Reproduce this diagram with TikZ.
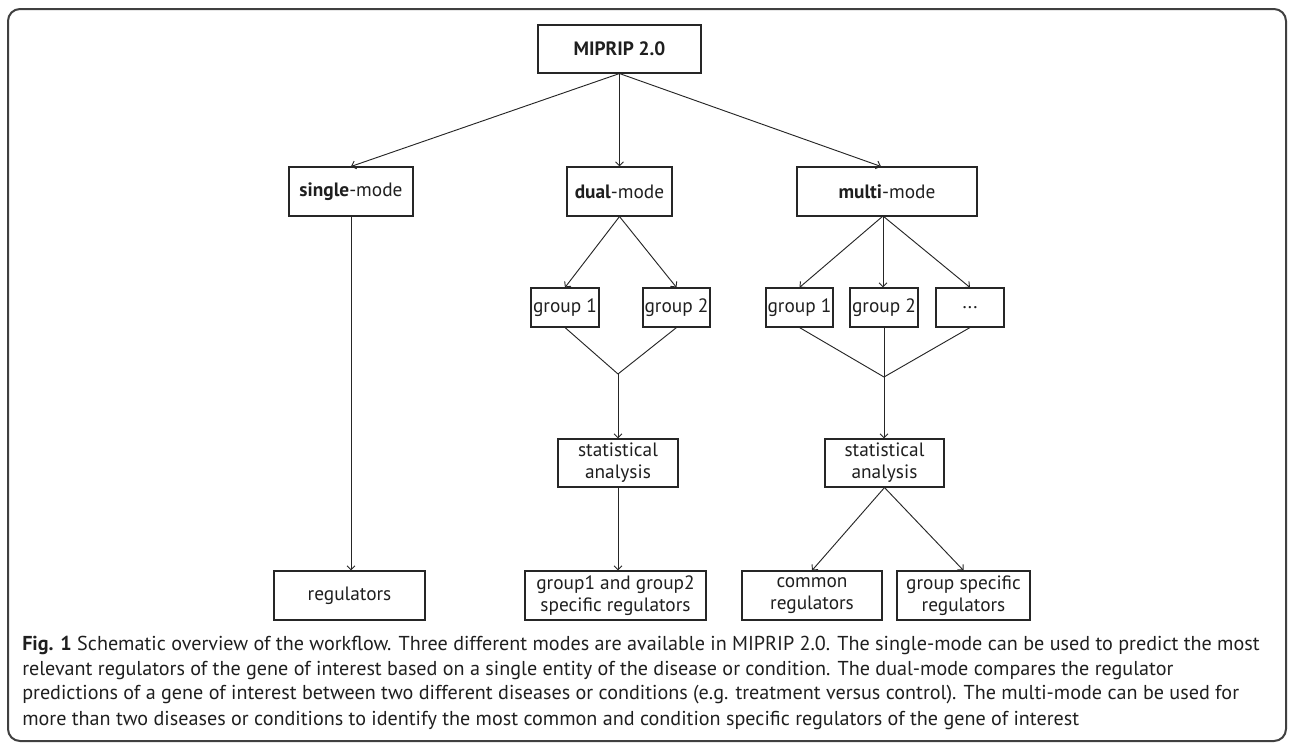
\documentclass[tikz,border=0pt]{standalone}
\usepackage{fontspec}
\setmainfont{PT Sans}
\usetikzlibrary{arrows.meta}
\definecolor{ln}{gray}{0.15}
\definecolor{fr}{gray}{0.25}
\definecolor{tx}{gray}{0.12}
\newcommand{\bx}[6]{\node[box,minimum width={(#4-#2)*0.75pt},minimum height={(#5-#3)*0.75pt}] (#1) at ({(#2+#4)/2},{(#3+#5)/2}) {#6};}
\begin{document}
\begin{tikzpicture}[x=0.75pt,y=-0.75pt,
  box/.style={draw=ln,line width=0.8pt,inner sep=1pt,align=center,font=\fontsize{14.5}{16.5}\selectfont,text=tx},
  arr/.style={draw=ln,line width=0.7pt,-{Straight Barb[length=3pt,width=6pt]}},
  conn/.style={draw=ln,line width=0.7pt},
  captext/.style={anchor=west,inner sep=0pt,font=\fontsize{15.1}{18}\selectfont,text=tx}]
\useasboundingbox (0,0) rectangle (1293,747);
\draw[fr,line width=1.5pt,rounded corners=9pt] (8,9) rectangle (1286,741);
% top
\bx{top}{538}{25}{701}{73}{\textbf{MIPRIP 2.0}}
\bx{single}{289}{167}{413}{216}{\textbf{single}-mode}
\bx{dual}{567}{167}{672}{216}{\textbf{dual}-mode}
\bx{multi}{797}{167}{977}{216}{\textbf{multi}-mode}
% groups
\bx{dg1}{531}{288}{599}{327}{group 1}
\bx{dg2}{643}{288}{710}{327}{group 2}
\bx{mg1}{766}{288}{833}{327}{group 1}
\bx{mg2}{850}{288}{918}{327}{group 2}
\bx{mg3}{936}{288}{1004}{327}{...}
% stats
\bx{ds}{558}{439}{678}{487}{statistical\\analysis}
\bx{ms}{825}{439}{944}{487}{statistical\\analysis}
% results
\bx{reg}{274}{571}{425}{620}{regulators}
\bx{g12}{525}{571}{706}{620}{group1 and group2\\specific regulators}
\bx{com}{742}{571}{882}{620}{common\\regulators}
\bx{gsp}{897}{571}{1030}{620}{group specific\\regulators}
% coordinates
\coordinate (mo) at (883,216);
\coordinate (dm) at (618,374);
\coordinate (mm) at (884,377);
% connectors
\draw[arr] (top.south) -- (single.north);
\draw[arr] (top.south) -- (dual.north);
\draw[arr] (top.south) -- ([xshift=-4.5pt]multi.north);
\draw[arr] (dual.south) -- (dg1.north);
\draw[arr] (dual.south) -- (dg2.north);
\draw[arr] (mo) -- (mg1.north);
\draw[arr] (mo) -- (mo |- mg2.north);
\draw[arr] (mo) -- (mg3.north);
\draw[conn] (dg1.south) -- (dm);
\draw[conn] (dg2.south) -- (dm);
\draw[conn] (mg1.south) -- (mm);
\draw[conn] (mg2.south) -- (mm);
\draw[conn] (mg3.south) -- (mm);
\draw[arr] (dm) -- (dm |- ds.north);
\draw[arr] (mm) -- (mm |- ms.north);
\draw[arr] (single.south) -- (single.south |- reg.north);
\draw[arr] (ds.south) -- (ds.south |- g12.north);
\draw[arr] (ms.south) -- (com.north);
\draw[arr] (ms.south) -- (gsp.north);
% caption
\node[captext] (c1) at (22,645) {\textbf{Fig. 1} Schematic overview of the workflow. Three different modes are available in MIPRIP 2.0. The single-mode can be used to predict the most};
\node[captext] (c2) at (22,670) {relevant regulators of the gene of interest based on a single entity of the disease or condition. The dual-mode compares the regulator};
\node[captext] (c3) at (22,695) {predictions of a gene of interest between two different diseases or conditions (e.g. treatment versus control). The multi-mode can be used for};
\node[captext] (c4) at (22,720) {more than two diseases or conditions to identify the most common and condition specific regulators of the gene of interest};
\end{tikzpicture}
\end{document}
